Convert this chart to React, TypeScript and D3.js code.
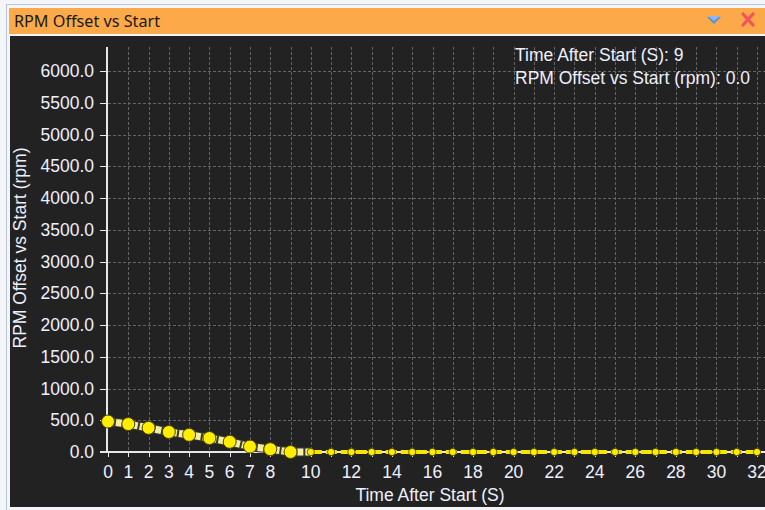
import React from "react";
import * as d3 from "d3";

const times = [0,1,2,3,4,5,6,7,8,9,10,11,12,13,14,15,16,17,18,19,20,21,22,23,24,25,26,27,28,29,30,31,32];
const rpmOffset = [480,440,380,315,270,220,160,85,45,0,0,0,0,0,0,0,0,0,0,0,0,0,0,0,0,0,0,0,0,0,0,0,0];
const yTicks = [0,500,1000,1500,2000,2500,3000,3500,4000,4500,5000,5500,6000];
const xTickLabels = [0,1,2,3,4,5,6,7,8,10,12,14,16,18,20,22,24,26,28,30,32];
const title = "RPM Offset vs Start";
const xTitle = "Time After Start (S)";
const yTitle = "RPM Offset vs Start (rpm)";
const legendLines = ["Time After Start (S): 9", "RPM Offset vs Start (rpm): 0.0"];

export default function App() {
  const W = 765, H = 510;
  const x = d3.scaleLinear().domain([0, 32]).range([108, 757]);
  const y = d3.scaleLinear().domain([0, 6000]).range([452, 71]);
  const yTop = 47;
  const font = "'Liberation Sans', Arial, sans-serif";
  const fs = 17.5;
  const txt = "#eef0ff";
  const idx = times.map((_, i) => i);
  const splitAt = 10;
  const firstPart = idx.filter(i => i <= splitAt);
  const secondPart = idx.filter(i => i >= splitAt);
  const seg = (ids: number[]) => d3.line<number>().x(i => x(times[i])).y(i => y(rpmOffset[i]))(ids) || "";

  return (
    <svg width={W} height={H} style={{ position: "fixed", left: 0, top: 0, display: "block" }}>
      <rect x={0} y={0} width={W} height={H} fill="#f3f5f8" />
      <rect x={6.5} y={4.5} width={W} height={H} fill="none" stroke="#b9c6d6" />
      {/* title bar */}
      <rect x={9} y={8} width={W - 9} height={26} fill="#fca94a" />
      <text x={14} y={27} fontFamily="'Noto Sans', 'Open Sans', sans-serif" fontSize={16.2} fill="#1a1a1a">{title}</text>
      <path d="M707,17 L721,17 L714,24 Z" fill="#5b8fd6" />
      <path d="M708,16 L720,16 L714,21 Z" fill="#8fb8ee" />
      <g stroke="#f2545b" strokeWidth={3.2} strokeLinecap="round">
        <line x1={743} y1={14} x2={753} y2={25} />
        <line x1={753} y1={14} x2={743} y2={25} />
      </g>
      {/* plot background */}
      <rect x={10} y={36} width={W - 10} height={471} fill="#222222" />
      {/* grid */}
      <g stroke="#646464" strokeWidth={1} strokeDasharray="3,2">
        {yTicks.filter(t => t > 0).map(t => (
          <line key={"h" + t} x1={x(0)} x2={W} y1={Math.round(y(t)) + 0.5} y2={Math.round(y(t)) + 0.5} />
        ))}
        {times.filter(t => t > 0).map(t => (
          <line key={"v" + t} x1={Math.round(x(t)) + 0.5} x2={Math.round(x(t)) + 0.5} y1={yTop} y2={y(0)} />
        ))}
      </g>
      {/* axes */}
      <line x1={x(0) - 1} x2={x(0) - 1} y1={yTop} y2={y(0) + 1} stroke="#e8e8e8" strokeWidth={2} />
      <line x1={100} x2={W} y1={y(0)} y2={y(0)} stroke="#e8e8e8" strokeWidth={2} />
      {yTicks.map(t => (
        <g key={"yt" + t}>
          <line x1={100} x2={x(0)} y1={Math.round(y(t)) + 0.5} y2={Math.round(y(t)) + 0.5} stroke="#e8e8e8" strokeWidth={1} />
          <text x={94} y={y(t) + 6} textAnchor="end" fontFamily={font} fontSize={fs} fill={txt}>{d3.format(".1f")(t)}</text>
        </g>
      ))}
      {times.map(t => (
        <line key={"xt" + t} x1={Math.round(x(t)) + 0.5} x2={Math.round(x(t)) + 0.5} y1={y(0)} y2={y(0) + 5} stroke="#e8e8e8" strokeWidth={1} />
      ))}
      {xTickLabels.map(t => (
        <text key={"xl" + t} x={x(t)} y={478} textAnchor="middle" fontFamily={font} fontSize={fs} fill={txt}>{t}</text>
      ))}
      <text x={430} y={501} textAnchor="middle" fontFamily={font} fontSize={fs} fill={txt}>{xTitle}</text>
      <text transform={`translate(26,248) rotate(-90)`} textAnchor="middle" fontFamily={font} fontSize={fs} fill={txt}>{yTitle}</text>
      {/* legend */}
      {legendLines.map((l, i) => (
        <text key={"lg" + i} x={515} y={61 + i * 23} fontFamily={font} fontSize={fs} fill={txt}>{l}</text>
      ))}
      {/* series */}
      <path d={seg(secondPart)} fill="none" stroke="#f5e600" strokeWidth={4} strokeDasharray="11,4" />
      <path d={seg(firstPart)} fill="none" stroke="#3a3a2a" strokeWidth={9} />
      <path d={seg(firstPart)} fill="none" stroke="#f4eda6" strokeWidth={7} strokeDasharray="6,2" />
      {idx.map(i => i < splitAt ? (
        <circle key={"p" + i} cx={x(times[i])} cy={y(rpmOffset[i])} r={6.5} fill="#ffee00" stroke="#4a4300" strokeWidth={1} />
      ) : (
        <circle key={"p" + i} cx={x(times[i])} cy={y(rpmOffset[i])} r={3.6} fill="#ffee00" stroke="#4a4300" strokeWidth={0.8} />
      ))}
    </svg>
  );
}
